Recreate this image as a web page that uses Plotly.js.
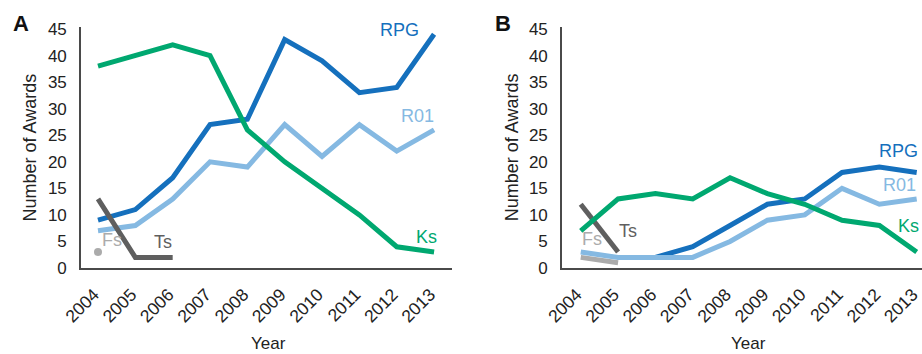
<!DOCTYPE html>
<html>
<head>
<meta charset="utf-8">
<script src="https://cdn.plot.ly/plotly-3.0.1.min.js"></script>
<style>html,body{margin:0;padding:0;background:#fff;}#chart{width:922px;height:354px;}</style>
</head>
<body>
<div id="chart"></div>
<script>
// ---- Data ----
const years = [2004, 2005, 2006, 2007, 2008, 2009, 2010, 2011, 2012, 2013];
const yearLabels = ["2004","2005","2006","2007","2008","2009","2010","2011","2012","2013"];

// Panel A
const rpgA = [9, 11, 17, 27, 28, 43, 39, 33, 34, 44];
const r01A = [7, 8, 13, 20, 19, 27, 21, 27, 22, 26];
const ksA  = [38, 40, 42, 40, 26, 20, 15, 10, 4, 3];
const tsA  = [13, 2, 2, null, null, null, null, null, null, null];
const fsA  = [3, null, null, null, null, null, null, null, null, null];

// Panel B
const rpgB = [null, null, 2, 4, 8, 12, 13, 18, 19, 18];
const r01B = [3, 2, 2, 2, 5, 9, 10, 15, 12, 13];
const ksB  = [7, 13, 14, 13, 17, 14, 12, 9, 8, 3];
const tsB  = [12, 3, null, null, null, null, null, null, null, null];
const fsB  = [2, 1, null, null, null, null, null, null, null, null];

const yTicks = [0, 5, 10, 15, 20, 25, 30, 35, 40, 45];

// ---- Styles ----
const C = {rpg:'#1570bd', r01:'#85b9e2', ks:'#00a870', ts:'#5f5f5f', fs:'#ababab'};
const LW = 5;
const FONT = '"Liberation Sans", Arial, Helvetica, sans-serif';

function line(x, y, color, xa, ya, name) {
  return {x:x, y:y, type:'scatter', mode:'lines', name:name, xaxis:xa, yaxis:ya,
          line:{color:color, width:LW}, connectgaps:false, hoverinfo:'skip'};
}

const traces = [
  // A
  {x:years, y:fsA, type:'scatter', mode:'markers', xaxis:'x', yaxis:'y', name:'Fs',
   marker:{color:C.fs, size:8}, hoverinfo:'skip'},
  line(years, rpgA, C.rpg, 'x', 'y', 'RPG'),
  line(years, r01A, C.r01, 'x', 'y', 'R01'),
  line(years, tsA, C.ts, 'x', 'y', 'Ts'),
  line(years, ksA, C.ks, 'x', 'y', 'Ks'),
  // B
  line(years, fsB, C.fs, 'x2', 'y2', 'Fs'),
  line(years, rpgB, C.rpg, 'x2', 'y2', 'RPG'),
  line(years, r01B, C.r01, 'x2', 'y2', 'R01'),
  line(years, tsB, C.ts, 'x2', 'y2', 'Ts'),
  line(years, ksB, C.ks, 'x2', 'y2', 'Ks')
];

const W = 922, H = 354;
const yDom = [(H - 268) / H, (H - 27.3) / H];

function xax(domPx, range) {
  return {domain:[domPx[0]/W, domPx[1]/W], range:range, showgrid:false, zeroline:false,
          showline:true, linecolor:'#4a4a4a', linewidth:1.5,
          tickmode:'array', tickvals:years, ticktext:yearLabels, tickangle:-45,
          ticks:'outside', ticklen:8, tickcolor:'rgba(0,0,0,0)',
          ticklabeloverflow:'allow', ticklabelshift:-4,
          tickfont:{family:FONT, size:17.5, color:'#222'}, automargin:false, fixedrange:true};
}
function yax(anchor) {
  return {domain:yDom, range:[0, 45.32], anchor:anchor, showgrid:false, zeroline:false,
          showline:true, linecolor:'#4a4a4a', linewidth:1.5,
          tickmode:'array', tickvals:yTicks,
          ticks:'outside', ticklen:9, tickcolor:'rgba(0,0,0,0)',
          tickfont:{family:FONT, size:17, color:'#222'}, automargin:false, fixedrange:true};
}

function lab(text, x, y, color, xr, yr, size, bold) {
  return {text: bold ? '<b>'+text+'</b>' : text, x:x, y:y, xref:xr, yref:yr,
          showarrow:false, xanchor:'center', yanchor:'middle',
          font:{family:FONT, size:size, color:color}};
}
function px(xp){ return xp / W; }
function py(yp){ return (H - yp) / H; }

const annotations = [
  // Panel A series labels
  lab('RPG', 2012.08, 44.8, C.rpg, 'x', 'y', 18),
  lab('R01', 2012.56, 28.6, C.r01, 'x', 'y', 18),
  lab('Ks', 2012.8, 5.9, C.ks, 'x', 'y', 18),
  lab('Fs', 2004.37, 5.2, C.fs, 'x', 'y', 18),
  lab('Ts', 2005.73, 4.9, C.ts, 'x', 'y', 18),
  // Panel B series labels
  lab('RPG', 2012.5, 22.1, C.rpg, 'x2', 'y2', 18),
  lab('R01', 2012.55, 15.7, C.r01, 'x2', 'y2', 18),
  lab('Ks', 2012.77, 7.9, C.ks, 'x2', 'y2', 18),
  lab('Fs', 2004.3, 5.5, C.fs, 'x2', 'y2', 18),
  lab('Ts', 2005.27, 7.0, C.ts, 'x2', 'y2', 18),
  // Panel letters
  lab('A', px(21), py(23), '#111', 'paper', 'paper', 22, true),
  lab('B', px(502.7), py(23), '#111', 'paper', 'paper', 22, true),
  // Axis titles
  lab('Year', px(268), py(343), '#222', 'paper', 'paper', 17),
  lab('Year', px(748), py(343), '#222', 'paper', 'paper', 17),
  Object.assign(lab('Number of Awards', px(29), py(147.5), '#222', 'paper', 'paper', 18), {textangle:-90}),
  Object.assign(lab('Number of Awards', px(511.7), py(147.5), '#222', 'paper', 'paper', 18), {textangle:-90})
];

const layout = {
  width:W, height:H, margin:{l:0, r:0, t:0, b:0, pad:0},
  paper_bgcolor:'#fff', plot_bgcolor:'#fff', showlegend:false,
  font:{family:FONT, color:'#222'},
  xaxis: xax([80.7, 452], [2003.537, 2013.48]),
  yaxis: yax('x'),
  xaxis2: xax([561.7, 922], [2003.49, 2013.142]),
  yaxis2: yax('x2'),
  annotations: annotations
};
layout.xaxis.anchor = 'y';
layout.xaxis2.anchor = 'y2';

Plotly.newPlot('chart', traces, layout, {staticPlot:true, displayModeBar:false});
</script>
</body>
</html>
